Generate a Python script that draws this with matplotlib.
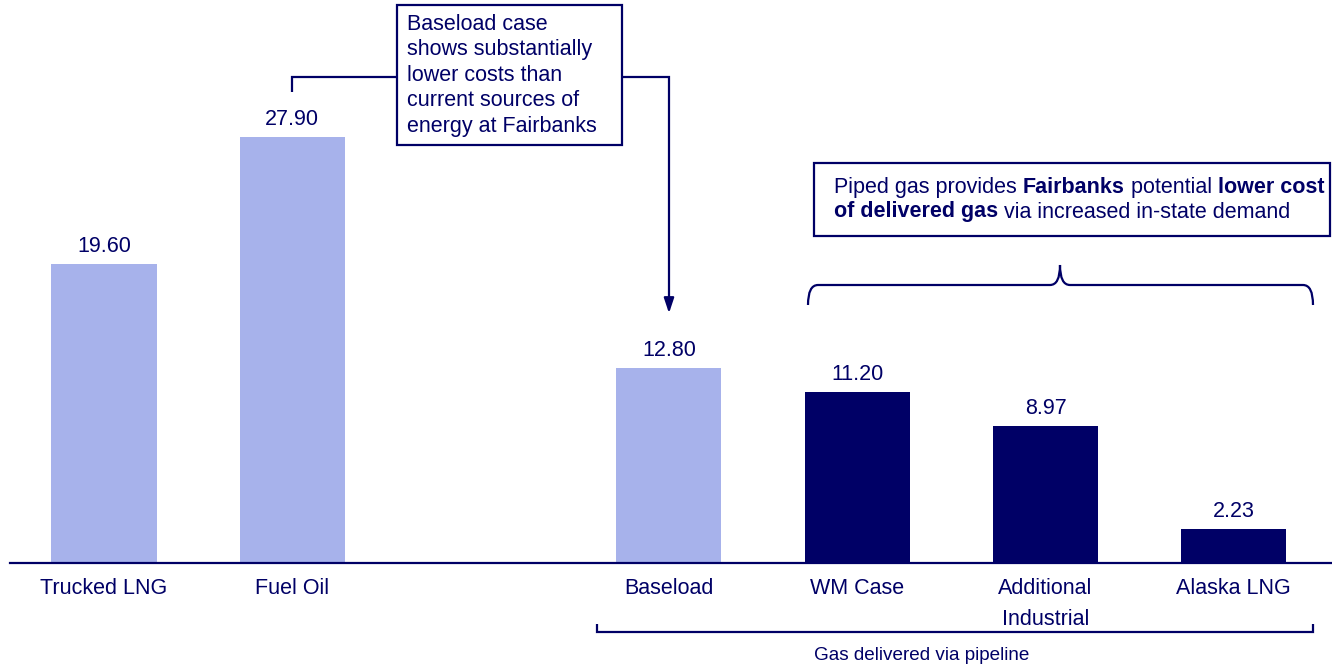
import numpy as np
import matplotlib.pyplot as plt
from matplotlib.patches import Rectangle, PathPatch
from matplotlib.path import Path

# delivered energy cost by source
categories = ["Trucked LNG", "Fuel Oil", "Baseload", "WM Case", "Additional\nIndustrial", "Alaska LNG"]
values = [19.60, 27.90, 12.80, 11.20, 8.97, 2.23]
positions = [0, 1, 3, 4, 5, 6]
dark = [False, False, False, True, True, True]

navy = "#000066"
light = "#A7B2EB"
fs = 15.5

plt.rcParams['font.family'] = ['Liberation Sans', 'DejaVu Sans']

fig = plt.figure(figsize=(13.32, 6.68), dpi=100)
W, H = 1332, 668
base_px = 563
ppu = 15.27      # pixels per unit
step = 188.3     # pixels between categories
x0_px = 104      # centre of first bar
ax = fig.add_axes([10 / W, (H - base_px) / H, 1 - 10 / W, base_px / H])
ax.set_xlim((10 - x0_px) / step, (W - x0_px) / step)
ax.set_ylim(0, base_px / ppu)

# helpers for placing callouts by pixel position
def px(x):
    return (x - x0_px) / step

def py(y):
    return (base_px - y) / ppu

colors = [navy if d else light for d in dark]
bars = ax.bar(positions, values, width=105 / step, color=colors, zorder=2)
for p, v in zip(positions, values):
    ax.annotate("%.2f" % v, (p, v), xytext=(0, 5), textcoords="offset points",
                ha="center", va="bottom", fontsize=fs, color=navy)

for s in ["top", "right", "left"]:
    ax.spines[s].set_visible(False)
ax.spines["bottom"].set_color(navy)
ax.spines["bottom"].set_linewidth(1.6)
ax.set_yticks([])
ax.set_xticks(positions)
ax.set_xticklabels(categories, fontsize=fs, color=navy, linespacing=1.6)
ax.tick_params(axis="x", length=0, pad=11)

lw = 1.6
kw = dict(color=navy, lw=lw, clip_on=False, solid_capstyle="butt", solid_joinstyle="miter")

# callout box 1
ax.add_patch(Rectangle((px(397), py(145)), px(622) - px(397), py(5) - py(145),
                       fill=False, edgecolor=navy, lw=lw, clip_on=False))
ax.text(px(407), py(14), "Baseload case\nshows substantially\nlower costs than\ncurrent sources of\nenergy at Fairbanks",
        ha="left", va="top", fontsize=fs, color=navy, linespacing=1.28)
ax.plot([px(292), px(292), px(397)], [py(92), py(77), py(77)], **kw)
ax.plot([px(622), px(669), px(669)], [py(77), py(77), py(300)], **kw)
ax.annotate("", xy=(px(669), py(316)), xytext=(px(669), py(298)),
            arrowprops=dict(arrowstyle="-|>,head_length=0.9,head_width=0.3", color=navy, lw=lw),
            annotation_clip=False)

# callout box 2
ax.add_patch(Rectangle((px(814), py(236)), px(1330) - px(814), py(163) - py(236),
                       fill=False, edgecolor=navy, lw=lw, clip_on=False))

def chain(prev, s, bold=False):
    return ax.annotate(s, xy=(1, 0), xycoords=prev, xytext=(0, 0), textcoords="offset points",
                       ha="left", va="bottom", fontsize=fs, color=navy,
                       fontweight="bold" if bold else "normal")

t = ax.text(px(834), py(188), "Piped gas provides ", ha="left", va="center",
            fontsize=fs, color=navy)
a = chain(t, "Fairbanks", True)
b = chain(a, " potential ")
c = chain(b, "lower cost", True)
t2 = ax.text(px(834), py(212), "of delivered gas", ha="left", va="center",
             fontsize=fs, color=navy, fontweight="bold")
d = chain(t2, " via increased in-state demand")

# curly brace over the piped cases
verts = [(808, 305), (808, 285), (818, 285), (1050, 285), (1060, 285), (1060, 265),
         (1060, 285), (1070, 285), (1303, 285), (1313, 285), (1313, 305)]
codes = [Path.MOVETO, Path.CURVE3, Path.CURVE3, Path.LINETO, Path.CURVE3, Path.CURVE3,
         Path.CURVE3, Path.CURVE3, Path.LINETO, Path.CURVE3, Path.CURVE3]
brace = Path([(px(x), py(y)) for x, y in verts], codes)
ax.add_patch(PathPatch(brace, fill=False, edgecolor=navy, lw=lw, clip_on=False))

# bottom bracket
ax.plot([px(597), px(597), px(1313), px(1313)], [py(624), py(632), py(632), py(624)], **kw)
ax.text(px(922), py(656), "Gas delivered via pipeline", ha="center", va="center",
        fontsize=13.6, color=navy)

fig.savefig("out.png", dpi=100)
